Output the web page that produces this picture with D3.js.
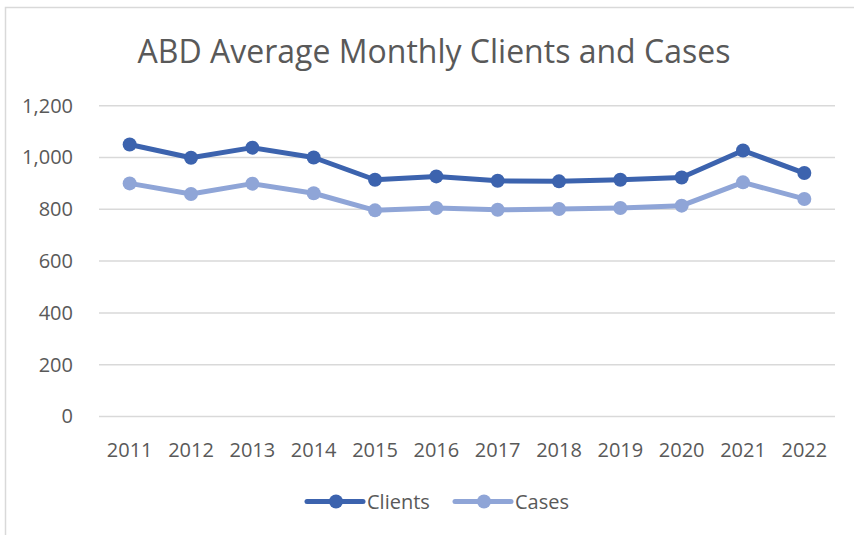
<!DOCTYPE html>
<html>
<head>
<meta charset="utf-8">
<script src="https://cdn.jsdelivr.net/npm/d3@7"></script>
<style>
  body { margin: 0; background: #fff; }
  text { font-family: "Open Sans", "Noto Sans", sans-serif; fill: #595959; }
</style>
</head>
<body>
<svg id="chart" width="854" height="535"></svg>
<script>
const years = ["2011", "2012", "2013", "2014", "2015", "2016", "2017", "2018", "2019", "2020", "2021", "2022"];
const clients = [1050, 999, 1038, 1000, 914, 927, 910, 908, 914, 923, 1027, 940];
const cases = [900, 859, 899, 862, 796, 805, 798, 801, 805, 814, 904, 840];
const yTicks = [0, 200, 400, 600, 800, 1000, 1200];

const series = [
  { name: "Clients", values: clients, color: "#3C63AE" },
  { name: "Cases", values: cases, color: "#8FA5D7" }
];

const svg = d3.select("#chart");

// chart frame (only top and left visible in the original)
svg.append("path")
  .attr("d", "M5.5,535 V7.5 H854")
  .attr("fill", "none")
  .attr("stroke", "#d9d9d9")
  .attr("stroke-width", 1.5);

svg.append("text")
  .attr("x", 434)
  .attr("y", 63)
  .attr("text-anchor", "middle")
  .style("font-size", "32px")
  .text("ABD Average Monthly Clients and Cases");

const x = d3.scaleBand().domain(years).range([99, 835]);
const y = d3.scaleLinear().domain([0, 1200]).range([416.5, 105.7]);

// gridlines
svg.append("g")
  .selectAll("line")
  .data(yTicks)
  .join("line")
  .attr("x1", 99)
  .attr("x2", 835)
  .attr("y1", d => y(d))
  .attr("y2", d => y(d))
  .attr("stroke", "#d9d9d9")
  .attr("stroke-width", 1.5);

const yAxis = svg.append("g")
  .attr("transform", "translate(73,0)")
  .call(d3.axisLeft(y).tickValues(yTicks).tickSize(0).tickPadding(0).tickFormat(d3.format(",")));
yAxis.select(".domain").remove();
yAxis.selectAll("text").style("font-size", "20px").attr("fill", "#595959");

const xAxis = svg.append("g")
  .attr("transform", "translate(0,416.5)")
  .call(d3.axisBottom(x).tickSize(0).tickPadding(26));
xAxis.select(".domain").remove();
xAxis.selectAll("text").style("font-size", "20px").attr("fill", "#595959");

const line = d3.line()
  .x((d, i) => x(years[i]) + x.bandwidth() / 2)
  .y(d => y(d));

series.forEach(s => {
  svg.append("path")
    .datum(s.values)
    .attr("fill", "none")
    .attr("stroke", s.color)
    .attr("stroke-width", 5)
    .attr("stroke-linejoin", "round")
    .attr("d", line);

  svg.append("g")
    .selectAll("circle")
    .data(s.values)
    .join("circle")
    .attr("cx", (d, i) => x(years[i]) + x.bandwidth() / 2)
    .attr("cy", d => y(d))
    .attr("r", 7)
    .attr("fill", s.color);
});

// legend
const legendX = [307, 455];
series.forEach((s, i) => {
  const g = svg.append("g").attr("transform", `translate(${legendX[i]},501.5)`);
  g.append("line")
    .attr("x1", 0).attr("x2", 56)
    .attr("stroke", s.color)
    .attr("stroke-width", 5)
    .attr("stroke-linecap", "round");
  g.append("circle").attr("cx", 29).attr("r", 7).attr("fill", s.color);
  g.append("text")
    .attr("x", 60)
    .attr("y", 7)
    .style("font-size", "20px")
    .text(s.name);
});
</script>
</body>
</html>
